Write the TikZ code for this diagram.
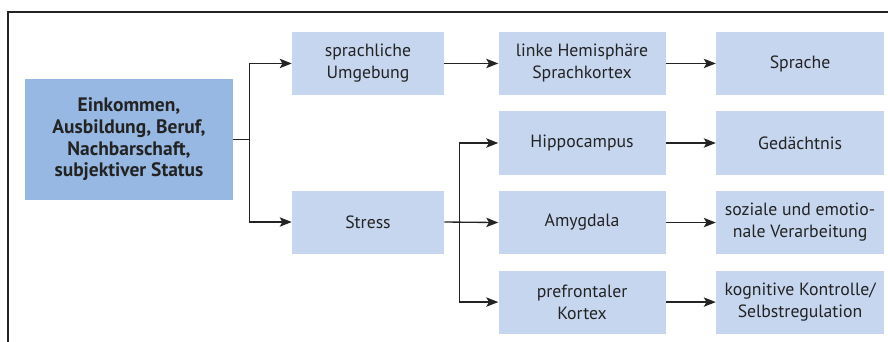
\documentclass[tikz,border=0pt]{standalone}
\usepackage{fontspec}
\setmainfont{PT Sans}
\usetikzlibrary{arrows.meta,positioning}
\definecolor{boxblue}{RGB}{198,214,239}
\definecolor{mainblue}{RGB}{150,184,226}
\definecolor{ink}{RGB}{35,35,35}

\begin{document}
\begin{tikzpicture}[
  box/.style={rectangle, fill=boxblue, align=center, text=ink,
              font=\fontsize{13.3}{16.5}\selectfont, inner sep=0pt,
              minimum height=47.25pt},
  colA/.style={box, minimum width=114pt},
  colB/.style={box, minimum width=125.25pt},
  colC/.style={box, minimum width=126pt},
  mainbox/.style={box, fill=mainblue, minimum width=156pt,
                  minimum height=90.75pt,
                  font=\fontsize{14.6}{16.2}\selectfont\bfseries},
  arr/.style={draw=ink, line width=1pt,
              -{Stealth[length=9pt,width=7pt,inset=2pt]}},
  link/.style={draw=ink, line width=1pt}
]
\useasboundingbox (0,0) rectangle (666pt,-256.5pt);
% frame
\draw[ink, line width=0.8pt] (6pt,-256.5pt) -- (6pt,-9pt) -- (666pt,-9pt);

\node[mainbox] (status) at (96.75pt,-104.6pt)
  {Einkommen,\\Ausbildung, Beruf,\\Nachbarschaft,\\subjektiver Status};
\node[colA] (umgebung) at (276pt,-47.6pt) {sprachliche\\Umgebung};
\node[colA, below=71.25pt of umgebung] (stress) {Stress};
\node[colB, right=40.5pt of umgebung] (hemi) {linke Hemisphäre\\Sprachkortex};
\node[colC, right=37.5pt of hemi] (sprache) {Sprache};
\node[colB, below=12pt of hemi] (hippo) {Hippocampus};
\node[colB, below=12pt of hippo] (amyg) {Amygdala};
\node[colB, below=12pt of amyg] (pfc) {prefrontaler\\Kortex};
\node[colC, right=37.5pt of hippo] (gedaechtnis) {Gedächtnis};
\node[colC, right=37.5pt of amyg] (emotion) {soziale und emotio-\\nale Verarbeitung};
\node[colC, right=37.5pt of pfc] (kontrolle) {kognitive Kontrolle/\\Selbstregulation};

% branches
\coordinate (split) at ([xshift=12pt]status.east);
\coordinate (fork) at ([xshift=11.25pt]stress.east);
\draw[link] (status.east) -- (split);
\draw[arr] (split) |- (umgebung.west);
\draw[arr] (split) |- (stress.west);
\draw[arr] (stress.east) -- (amyg.west);
\draw[arr] (fork) |- (hippo.west);
\draw[arr] (fork) |- (pfc.west);
\draw[arr] (umgebung) -- (hemi);
\draw[arr] (hemi) -- (sprache);
\draw[arr] (hippo) -- (gedaechtnis);
\draw[arr] (amyg) -- (emotion);
\draw[arr] (pfc) -- (kontrolle);
\end{tikzpicture}
\end{document}
